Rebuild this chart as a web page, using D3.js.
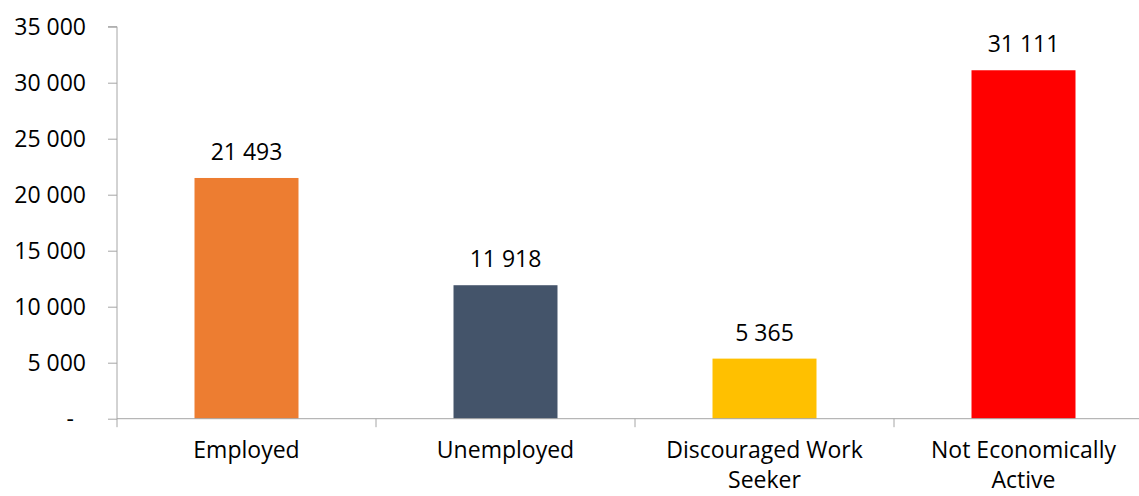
<!DOCTYPE html>
<html><head><meta charset="utf-8">
<script src="https://cdn.jsdelivr.net/npm/d3@7"></script>
<style>html,body{margin:0;padding:0;background:#fff;}svg{display:block;}</style>
</head><body>
<svg id="c" width="1139" height="496"></svg>
<script>
const categories = ["Employed", "Unemployed", "Discouraged Work Seeker", "Not Economically Active"];
const categoryLines = [["Employed"], ["Unemployed"], ["Discouraged Work", "Seeker"], ["Not Economically", "Active"]];
const values = [21493, 11918, 5365, 31111];
const colors = ["#ED7D31", "#44546A", "#FFC000", "#FF0000"];
const yTicks = [0, 5000, 10000, 15000, 20000, 25000, 30000, 35000];

(function() {
const svg = d3.select("#c");
const font = "'Open Sans', sans-serif";
const fs = 23;
const axisColor = "#A6A6A6";
const mLeft = 117, mRight = 1153, mTop = 26.7, mBottom = 418.7;

const x = d3.scaleBand().domain(categories).range([mLeft, mRight]).padding(0);
const y = d3.scaleLinear().domain([0, 35000]).range([mBottom, mTop]);
const barW = x.bandwidth() * 0.4015;
const fmt = v => v === 0 ? "-" : d3.format(",")(v).replace(/,/g, " ");

svg.selectAll("rect.bar").data(values).join("rect")
  .attr("class", "bar")
  .attr("x", (d, i) => x(categories[i]) + (x.bandwidth() - barW) / 2)
  .attr("width", barW)
  .attr("y", d => y(d))
  .attr("height", d => y(0) - y(d))
  .attr("fill", (d, i) => colors[i]);

svg.selectAll("text.val").data(values).join("text")
  .attr("class", "val")
  .attr("x", (d, i) => x(categories[i]) + x.bandwidth() / 2)
  .attr("y", d => y(d) - 18)
  .attr("text-anchor", "middle")
  .attr("font-family", font).attr("font-size", fs).attr("fill", "#000")
  .text(d => fmt(d));

const yAxis = d3.axisLeft(y).tickValues(yTicks).tickSize(9).tickPadding(22).tickFormat(fmt);
const gy = svg.append("g").attr("transform", `translate(${mLeft},0)`).call(yAxis);
gy.select(".domain").attr("stroke", axisColor).attr("d", `M-9,${mTop}H0V${mBottom + 8.5}`);
gy.selectAll(".tick line").attr("stroke", axisColor);
gy.selectAll(".tick text").attr("font-family", font).attr("font-size", fs).attr("fill", "#000")
  .attr("dx", d => d === 0 ? -12 : 0);

const gx = svg.append("g").attr("transform", `translate(0,${mBottom})`);
gx.append("path").attr("d", `M${mLeft},0H${mRight}`).attr("stroke", axisColor).attr("fill", "none");
gx.selectAll("line.sep").data(categories.slice(1)).join("line")
  .attr("class", "sep")
  .attr("x1", d => x(d)).attr("x2", d => x(d))
  .attr("y1", 0).attr("y2", 8.5)
  .attr("stroke", axisColor);
gx.selectAll("text.cat").data(categoryLines).join("text")
  .attr("class", "cat")
  .attr("text-anchor", "middle")
  .attr("font-family", font).attr("font-size", fs).attr("fill", "#000")
  .attr("x", (d, i) => x(categories[i]) + x.bandwidth() / 2)
  .attr("y", 39)
  .each(function(lines) {
    const t = d3.select(this);
    lines.forEach((l, j) => t.append("tspan")
      .attr("x", t.attr("x")).attr("dy", j === 0 ? 0 : 30).text(l));
  });
})();
</script>
</body></html>
